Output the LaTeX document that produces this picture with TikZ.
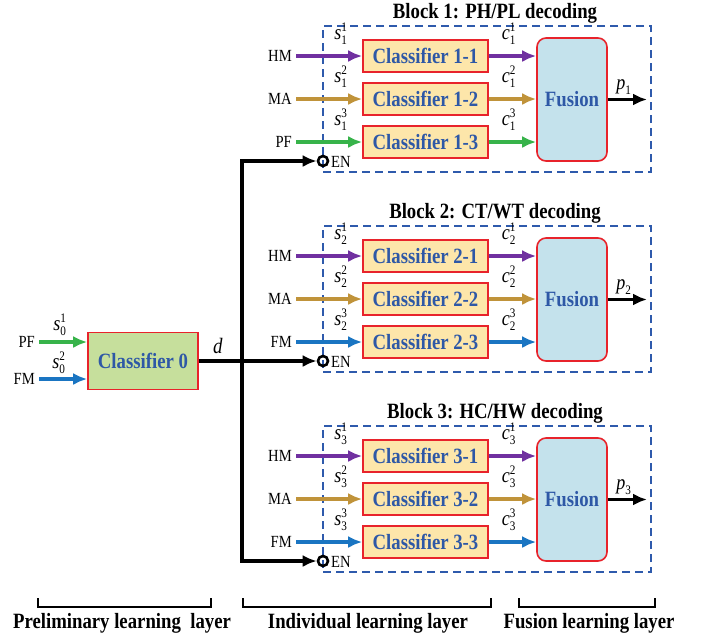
\documentclass[tikz,border=0pt]{standalone}
\usepackage{fontspec}
\usepackage{amsmath}
\setmainfont[FakeStretch=0.86]{Liberation Serif}
\usetikzlibrary{arrows.meta}
\definecolor{cpur}{HTML}{7030A0}
\definecolor{cgold}{HTML}{C0933A}
\definecolor{cgrn}{HTML}{37B34A}
\definecolor{cblu}{HTML}{1A75C2}
\definecolor{ctxt}{HTML}{2E58A6}
\definecolor{cdash}{HTML}{2E5AAC}
\definecolor{cred}{HTML}{E8232B}
\definecolor{corg}{HTML}{FDE6AA}
\definecolor{cfus}{HTML}{C4E2EC}
\definecolor{cgreenz}{HTML}{C6DF9C}
\newcommand\scr[1]{\text{\fontsize{13}{13}\selectfont #1}}
\tikzset{
 bigbold/.style={font=\fontsize{21.8}{24}\selectfont\bfseries},
 clsbox/.style={draw=cred, line width=1.6pt, fill=corg, minimum width=125pt, minimum height=32pt, inner sep=0pt, text=ctxt, bigbold},
 fusbox/.style={draw=cred, line width=1.6pt, fill=cfus, rounded corners=9pt, minimum width=70pt, minimum height=123pt, inner sep=0pt, text=ctxt, bigbold},
 zerobox/.style={draw=cred, line width=1.6pt, fill=cgreenz, minimum width=110pt, minimum height=57pt, inner sep=0pt, text=ctxt, bigbold},
 arr/.style={line width=3.4pt, -{Latex[length=14pt,width=12pt]}},
 inlbl/.style={font=\fontsize{17}{19}\selectfont, anchor=east, inner sep=0pt},
 mlbl/.style={font=\fontsize{21}{22}\selectfont, inner sep=0pt},
 enc/.style={circle, draw=black, line width=2.6pt, minimum size=10pt, inner sep=0pt},
 dbox/.style={draw=cdash, line width=2pt, dash pattern=on 8pt off 5pt, minimum width=328pt, minimum height=146pt, inner sep=0pt},
 brk/.style={line width=2.2pt},
}
\newcommand\myblock[5]{%
\begin{scope}[shift={(0,#2)}]
 \node[bigbold] (t#1) at (495,13) {Block #1: #3 decoding};
 \node[dbox] (box#1) at (487,99) {};
 \node[clsbox] (c#1a) at (425.5,56) {Classifier #1-1};
 \node[clsbox] (c#1b) at (425.5,99) {Classifier #1-2};
 \node[clsbox] (c#1c) at (425.5,142) {Classifier #1-3};
 \node[fusbox] (f#1) at (572,99.5) {Fusion};
 \node[inlbl] (h#1a) at (292,56) {HM};
 \node[inlbl] (h#1b) at (292,99) {MA};
 \node[inlbl] (h#1c) at (292,142) {#5};
 \draw[arr,cpur] ([xshift=4pt]h#1a.east) -- (c#1a.west);
 \draw[arr,cgold] ([xshift=4pt]h#1b.east) -- (c#1b.west);
 \draw[arr,#4] ([xshift=4pt]h#1c.east) -- (c#1c.west);
 \draw[arr,cpur] (c#1a.east) -- (c#1a.east -| f#1.west);
 \draw[arr,cgold] (c#1b.east) -- (c#1b.east -| f#1.west);
 \draw[arr,#4] (c#1c.east) -- (c#1c.east -| f#1.west);
 \node[mlbl] (s#1a) at (341,34) {$\textit{s}^{\scr{1}}_{\scr{#1}}$};
 \node[mlbl] (s#1b) at (341,77) {$\textit{s}^{\scr{2}}_{\scr{#1}}$};
 \node[mlbl] (s#1c) at (341,120) {$\textit{s}^{\scr{3}}_{\scr{#1}}$};
 \node[mlbl] (k#1a) at (509,34) {$\textit{c}^{\scr{1}}_{\scr{#1}}$};
 \node[mlbl] (k#1b) at (509,77) {$\textit{c}^{\scr{2}}_{\scr{#1}}$};
 \node[mlbl] (k#1c) at (509,120) {$\textit{c}^{\scr{3}}_{\scr{#1}}$};
 \coordinate (o#1) at (647,99.5);
 \draw[arr,black] (f#1.east) -- (o#1);
 \node[mlbl] (p#1) at (624,87) {$\textit{p}_{\scr{#1}}$};
 \node[enc] (en#1) at (323,161) {};
 \node[inlbl,anchor=west] (enl#1) at (331,162) {EN};
\end{scope}}
\begin{document}
\begin{tikzpicture}[x=1pt,y=-1pt]
\useasboundingbox (0,0) rectangle (704,640);
\myblock{1}{0}{PH/PL}{cgrn}{PF}
\myblock{2}{200}{CT/WT}{cblu}{FM}
\myblock{3}{400}{HC/HW}{cblu}{FM}
% preliminary classifier
\node[zerobox] (c0) at (143,361) {Classifier 0};
\node[inlbl] (pf0) at (35,342) {PF};
\node[inlbl] (fm0) at (35,379) {FM};
\draw[arr,cgrn] ([xshift=4pt]pf0.east) -- (pf0.east -| c0.west);
\draw[arr,cblu] ([xshift=4pt]fm0.east) -- (fm0.east -| c0.west);
\node[mlbl] (s0a) at (60,325) {$\textit{s}^{\scr{1}}_{\scr{0}}$};
\node[mlbl] (s0b) at (59,363) {$\textit{s}^{\scr{2}}_{\scr{0}}$};
\node[mlbl,font=\fontsize{22}{24}\selectfont] (dl) at (218,346) {\textit{d}};
\draw[arr] (c0.east) -- (en2.west);
\coordinate (j) at (242,361);
\draw[arr] (j) |- (en1.west);
\draw[arr] (j) |- (en3.west);
% bottom layers
\node[bigbold] (L1) at (122,623) {Preliminary learning~ layer};
\node[bigbold] (L2) at (368,623) {Individual learning layer};
\node[bigbold] (L3) at (589,623) {Fusion learning layer};
\draw[brk] (38,598) -- (38,607) -- (211,607) -- (211,598);
\draw[brk] (243,598) -- (243,607) -- (491,607) -- (491,598);
\draw[brk] (519,598) -- (519,607) -- (655,607) -- (655,598);
\end{tikzpicture}
\end{document}
